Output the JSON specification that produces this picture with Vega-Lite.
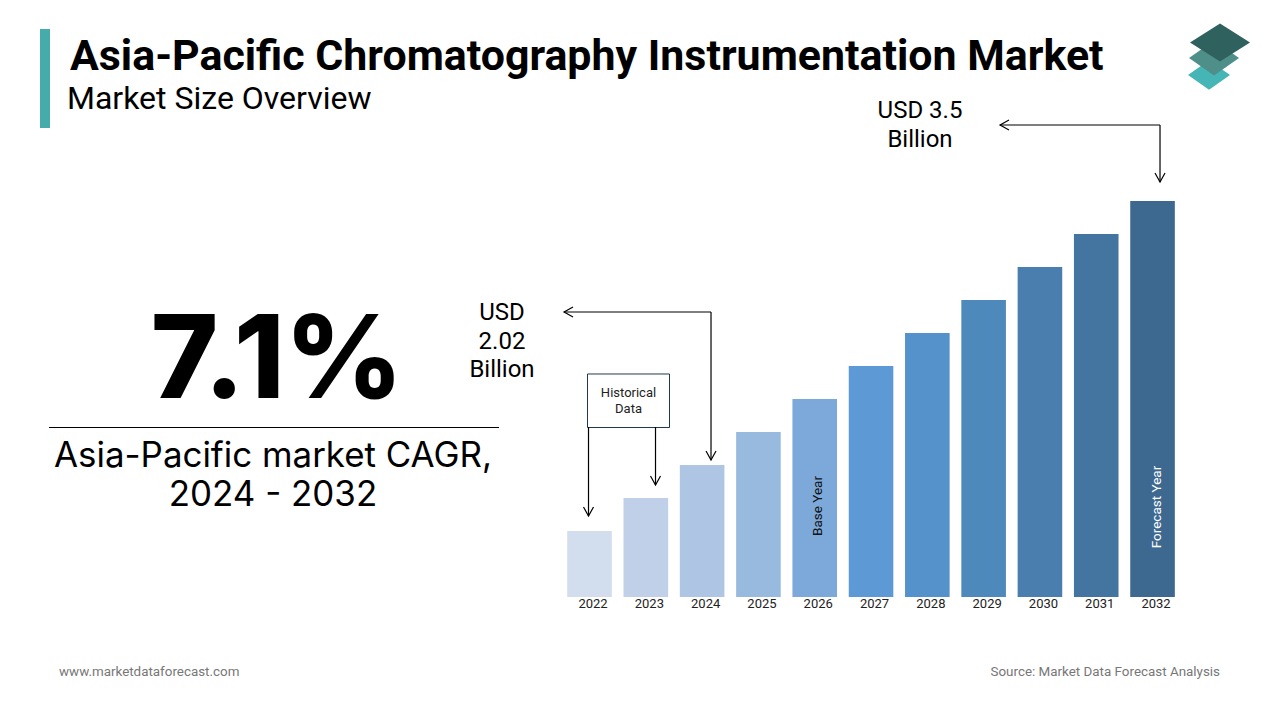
{
  "$schema": "https://vega.github.io/schema/vega-lite/v6.json",
  "width": 1280,
  "height": 720,
  "padding": 0,
  "autosize": {"type": "none"},
  "background": "white",
  "config": {
    "view": {"stroke": null},
    "axisY": {"disable": true},
    "axisX": {"domain": false, "ticks": false, "grid": false, "title": null},
    "text": {"font": "Roboto", "color": "#000000"},
    "rule": {"color": "#000000", "strokeWidth": 1.2}
  },
  "layer": [
    {
      "data": {"values": [
        {"year": 2022, "size": 1.65},
        {"year": 2023, "size": 1.835},
        {"year": 2024, "size": 2.02},
        {"year": 2025, "size": 2.205},
        {"year": 2026, "size": 2.39},
        {"year": 2027, "size": 2.575},
        {"year": 2028, "size": 2.76},
        {"year": 2029, "size": 2.945},
        {"year": 2030, "size": 3.13},
        {"year": 2031, "size": 3.315},
        {"year": 2032, "size": 3.5}
      ]},
      "mark": {"type": "bar", "size": 44.6},
      "encoding": {
        "x": {
          "field": "year",
          "type": "quantitative",
          "scale": {"domain": [2011.529, 2034.264], "nice": false, "zero": false, "padding": 0},
          "axis": {
            "values": [2022, 2023, 2024, 2025, 2026, 2027, 2028, 2029, 2030, 2031, 2032],
            "format": "d",
            "offset": -123,
            "labelPadding": 0,
            "labelOffset": 3,
            "labelFont": "Roboto",
            "labelFontSize": 13,
            "labelColor": "#222222",
            "labelBaseline": "top",
            "labelFlush": false,
            "labelOverlap": false,
            "title": null
          }
        },
        "y": {
          "field": "size",
          "type": "quantitative",
          "scale": {"domain": [0.5905, 4.6268], "nice": false, "zero": false}
        },
        "y2": {"datum": 1.28},
        "color": {
          "field": "year",
          "type": "nominal",
          "legend": null,
          "scale": {
            "domain": [2022, 2023, 2024, 2025, 2026, 2027, 2028, 2029, 2030, 2031, 2032],
            "range": ["#D2DDED", "#BFD0E8", "#AEC6E4", "#98BADF", "#7CA9D9", "#5D9AD5", "#5591CA", "#4E89BC", "#4A7EAE", "#4475A1", "#3D688F"]
          }
        }
      }
    },
    {
      "data": {"values": [{}]},
      "layer": [
        {
          "mark": {"type": "rect", "color": "#45ABAB"},
          "encoding": {
            "x": {"datum": 2012.2395}, "x2": {"datum": 2012.4171},
            "y": {"datum": 4.4642}, "y2": {"datum": 3.9092}
          }
        },
        {
          "mark": {"type": "text", "fontSize": 42.9, "fontWeight": "bold", "align": "left", "baseline": "middle", "text": "Asia-Pacific Chromatography Instrumentation Market"},
          "encoding": {"x": {"datum": 2012.7723}, "y": {"datum": 4.3073}}
        },
        {
          "mark": {"type": "text", "fontSize": 32, "align": "left", "baseline": "middle", "text": "Market Size Overview"},
          "encoding": {"x": {"datum": 2012.7191}, "y": {"datum": 4.0718}}
        },
        {
          "mark": {"type": "text", "font": "Inter", "fontSize": 115, "fontWeight": 800, "align": "center", "baseline": "middle", "text": "7.1%"},
          "encoding": {"x": {"datum": 2016.4492}, "y": {"datum": 2.5946}}
        },
        {
          "mark": {"type": "rule"},
          "encoding": {
            "x": {"datum": 2012.3993}, "x2": {"datum": 2020.3923},
            "y": {"datum": 2.2302}
          }
        },
        {
          "mark": {"type": "text", "font": "Inter", "fontSize": 34.9, "lineHeight": 39, "align": "center", "baseline": "middle", "text": ["Asia-Pacific market CAGR,", "2024 - 2032"]},
          "encoding": {"x": {"datum": 2016.378}, "y": {"datum": 2.0649}}
        },
        {
          "mark": {"type": "text", "fontSize": 24, "lineHeight": 28.5, "align": "center", "baseline": "middle", "text": ["USD", "2.02", "Billion"]},
          "encoding": {"x": {"datum": 2020.4455}, "y": {"datum": 2.8721}}
        },
        {
          "mark": {"type": "text", "fontSize": 24, "lineHeight": 28.5, "align": "center", "baseline": "middle", "text": ["USD 3.5", "Billion"]},
          "encoding": {"x": {"datum": 2027.87}, "y": {"datum": 4.0045}}
        },
        {
          "mark": {"type": "rect", "fill": "white", "stroke": "#1F3A4F", "strokeWidth": 1},
          "encoding": {
            "x": {"datum": 2021.9642}, "x2": {"datum": 2023.4206},
            "y": {"datum": 2.5302}, "y2": {"datum": 2.2302}
          }
        },
        {
          "mark": {"type": "text", "fontSize": 13, "lineHeight": 16, "align": "center", "baseline": "middle", "color": "#222222", "text": ["Historical", "Data"]},
          "encoding": {"x": {"datum": 2022.6924}, "y": {"datum": 2.4236}}
        },
        {
          "mark": {"type": "rule"},
          "encoding": {"x": {"datum": 2021.5468}, "x2": {"datum": 2024.1578}, "y": {"datum": 2.8777}}
        },
        {
          "mark": {"type": "rule"},
          "encoding": {"x": {"datum": 2024.1578}, "y": {"datum": 2.8777}, "y2": {"datum": 2.048}}
        },
        {
          "mark": {"type": "rule"},
          "encoding": {"x": {"datum": 2021.9819}, "y": {"datum": 2.233}, "y2": {"datum": 1.7341}}
        },
        {
          "mark": {"type": "rule"},
          "encoding": {"x": {"datum": 2023.172}, "y": {"datum": 2.233}, "y2": {"datum": 1.9079}}
        },
        {
          "mark": {"type": "rule"},
          "encoding": {"x": {"datum": 2029.291}, "x2": {"datum": 2032.1329}, "y": {"datum": 3.926}}
        },
        {
          "mark": {"type": "rule"},
          "encoding": {"x": {"datum": 2032.1329}, "y": {"datum": 3.926}, "y2": {"datum": 3.6065}}
        },
        {
          "mark": {"type": "point", "shape": "M-1,-1.8L0,0L1,-1.8", "size": 100, "filled": false, "stroke": "#000000", "strokeWidth": 1.2, "opacity": 1},
          "encoding": {"x": {"datum": 2024.1578}, "y": {"datum": 2.048}}
        },
        {
          "mark": {"type": "point", "shape": "M-1,-1.8L0,0L1,-1.8", "size": 100, "filled": false, "stroke": "#000000", "strokeWidth": 1.2, "opacity": 1},
          "encoding": {"x": {"datum": 2021.9819}, "y": {"datum": 1.7341}}
        },
        {
          "mark": {"type": "point", "shape": "M-1,-1.8L0,0L1,-1.8", "size": 100, "filled": false, "stroke": "#000000", "strokeWidth": 1.2, "opacity": 1},
          "encoding": {"x": {"datum": 2023.172}, "y": {"datum": 1.9079}}
        },
        {
          "mark": {"type": "point", "shape": "M-1,-1.8L0,0L1,-1.8", "size": 100, "filled": false, "stroke": "#000000", "strokeWidth": 1.2, "opacity": 1},
          "encoding": {"x": {"datum": 2032.1329}, "y": {"datum": 3.6065}}
        },
        {
          "mark": {"type": "point", "shape": "M1.8,-1L0,0L1.8,1", "size": 100, "filled": false, "stroke": "#000000", "strokeWidth": 1.2, "opacity": 1},
          "encoding": {"x": {"datum": 2021.5468}, "y": {"datum": 2.8777}}
        },
        {
          "mark": {"type": "point", "shape": "M1.8,-1L0,0L1.8,1", "size": 100, "filled": false, "stroke": "#000000", "strokeWidth": 1.2, "opacity": 1},
          "encoding": {"x": {"datum": 2029.291}, "y": {"datum": 3.926}}
        },
        {
          "mark": {"type": "text", "fontSize": 13.5, "angle": 270, "align": "center", "baseline": "middle", "color": "#111111", "text": "Base Year"},
          "encoding": {"x": {"datum": 2026.0583}, "y": {"datum": 1.7902}}
        },
        {
          "mark": {"type": "text", "fontSize": 13.5, "angle": 270, "align": "center", "baseline": "middle", "color": "#FFFFFF", "text": "Forecast Year"},
          "encoding": {"x": {"datum": 2032.0796}, "y": {"datum": 1.7846}}
        },
        {
          "mark": {"type": "point", "shape": "M0,-0.7L1,0L0,0.7L-1,0Z", "size": 1764, "filled": true, "color": "#45B5B5", "opacity": 1},
          "encoding": {"x": {"datum": 2033.0033}, "y": {"datum": 4.2063}}
        },
        {
          "mark": {"type": "point", "shape": "M0,-0.7L1,0L0,0.7L-1,0Z", "size": 2500, "filled": true, "color": "#4F8F8A", "opacity": 1},
          "encoding": {"x": {"datum": 2033.0921}, "y": {"datum": 4.3017}}
        },
        {
          "mark": {"type": "point", "shape": "M0,-0.63L1,0L0,0.63L-1,0Z", "size": 3600, "filled": true, "color": "#2F625E", "opacity": 1},
          "encoding": {"x": {"datum": 2033.1986}, "y": {"datum": 4.3885}}
        },
        {
          "mark": {"type": "text", "fontSize": 13.4, "align": "left", "baseline": "middle", "color": "#777777", "text": "www.marketdataforecast.com"},
          "encoding": {"x": {"datum": 2012.577}, "y": {"datum": 0.8623}}
        },
        {
          "mark": {"type": "text", "fontSize": 13.4, "align": "right", "baseline": "middle", "color": "#777777", "text": "Source: Market Data Forecast Analysis"},
          "encoding": {"x": {"datum": 2033.1986}, "y": {"datum": 0.8623}}
        }
      ]
    }
  ]
}
